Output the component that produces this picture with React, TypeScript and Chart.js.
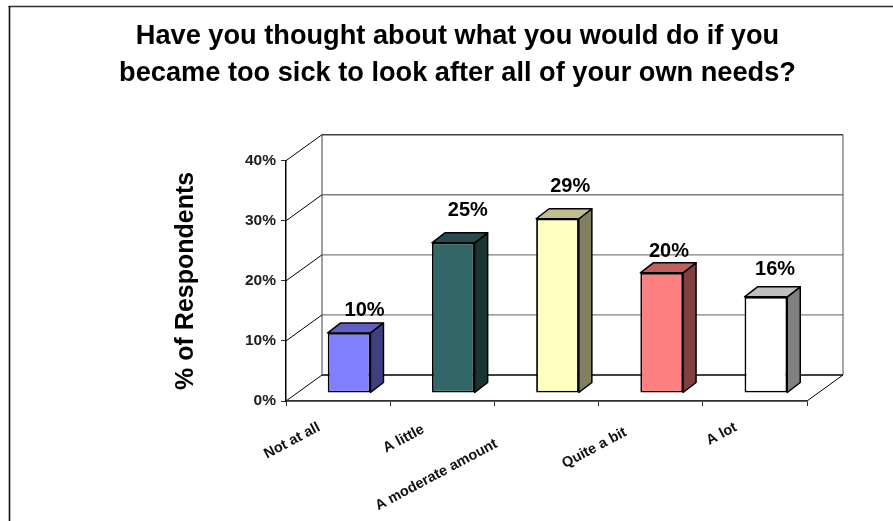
import React, { useEffect, useRef } from "react";
import { Chart, registerables } from "chart.js";

Chart.register(...registerables);

const categories = ["Not at all", "A little", "A moderate amount", "Quite a bit", "A lot"];
const percentValues = [10, 25, 29, 20, 16];
const frontColors = ["#8080FF", "#336666", "#FFFFC0", "#FF8080", "#FFFFFF"];
const topColors = ["#6060C0", "#264D4D", "#BFBF90", "#BF6060", "#C0C0C0"];
const sideColors = ["#404080", "#1A3333", "#808060", "#804040", "#808080"];
const yTicks = [0, 10, 20, 30, 40];
const titleLines = [
  "Have you thought about what you would do if you",
  "became too sick to look after all of your own needs?",
];

const FONT = '"Liberation Sans", Arial, sans-serif';

// Oblique projection of the box: wall depth, bar inset from the front edge, bar depth.
const WALL = { dx: 36, dy: -26 };
const BAR_SHIFT = { dx: 11, dy: -8 };
const BAR_DEPTH = { dx: 13, dy: -10 };

// Per-category nudges for the rotated axis labels and the value labels.
const categoryLabelNudge = [
  { x: -19, y: 25.5 },
  { x: -19, y: 27.5 },
  { x: -50, y: 42 },
  { x: -25, y: 30.5 },
  { x: -19, y: 25.5 },
];
const valueLabelNudge = [
  { x: 15.5, y: -22.7 },
  { x: 14.5, y: -32 },
  { x: 12.7, y: -32 },
  { x: 7.3, y: -21.7 },
  { x: 9.2, y: -27.7 },
];

function line(ctx: CanvasRenderingContext2D, x1: number, y1: number, x2: number, y2: number, color: string, width: number) {
  ctx.strokeStyle = color;
  ctx.lineWidth = width;
  ctx.beginPath();
  ctx.moveTo(x1, y1);
  ctx.lineTo(x2, y2);
  ctx.stroke();
}

function face(ctx: CanvasRenderingContext2D, pts: number[][], fill: string) {
  ctx.fillStyle = fill;
  ctx.strokeStyle = "#000000";
  ctx.lineWidth = 1.5;
  ctx.lineJoin = "round";
  ctx.beginPath();
  pts.forEach(([x, y], i) => (i ? ctx.lineTo(x, y) : ctx.moveTo(x, y)));
  ctx.closePath();
  ctx.fill();
  ctx.stroke();
}

const boxPlugin = {
  id: "box3d",
  afterLayout(chart: any) {
    // The heading is centred on the frame rather than on the padded plot box.
    chart.titleBlock.left = 22;
    chart.titleBlock.right = 893;
  },
  beforeDraw(chart: any) {
    const { ctx, chartArea, scales, width, height } = chart;
    const { left, right } = chartArea;
    ctx.save();
    ctx.fillStyle = "#FFFFFF";
    ctx.fillRect(0, 0, width, height);
    // Frame around the chart, open on the right and past the lower edge.
    line(ctx, 8.5, 6.5, 893, 6.5, "#303030", 1.6);
    line(ctx, 9.5, 6, 9.5, 521, "#101010", 1.6);

    // Back wall, its gridlines and the diagonals of the side wall.
    const y = scales.y;
    yTicks.forEach((v) => {
      const py = y.getPixelForValue(v);
      const by = py + WALL.dy;
      const color = v === 0 ? "#000000" : v === 40 ? "#404040" : "#808080";
      line(ctx, left, py, left + WALL.dx, by, "#000000", 1);
      line(ctx, left + WALL.dx, by, right + WALL.dx, by, color, v === 40 ? 1.4 : 1.3);
    });
    const backTop = y.getPixelForValue(40) + WALL.dy;
    const backBottom = y.getPixelForValue(0) + WALL.dy;
    line(ctx, left + WALL.dx, backTop, left + WALL.dx, backBottom, "#404040", 1);
    line(ctx, right + WALL.dx, backTop, right + WALL.dx, backBottom, "#505050", 1);
    line(ctx, right, y.getPixelForValue(0), right + WALL.dx, backBottom, "#000000", 1);
    ctx.restore();
  },
  beforeDatasetsDraw(chart: any) {
    const { ctx } = chart;
    const bars = chart.getDatasetMeta(0).data;
    ctx.save();
    ctx.translate(BAR_SHIFT.dx, BAR_SHIFT.dy);
    bars.forEach((bar: any, i: number) => {
      const { x, y, base, width } = bar.getProps(["x", "y", "base", "width"], true);
      const r = x + width / 2;
      const l = x - width / 2;
      const d = BAR_DEPTH;
      face(ctx, [[r, base], [r + d.dx, base + d.dy], [r + d.dx, y + d.dy], [r, y]], sideColors[i]);
      face(ctx, [[l, y], [l + d.dx, y + d.dy], [r + d.dx, y + d.dy], [r, y]], topColors[i]);
    });
    // The fronts are drawn by the bar controller inside this same shifted frame.
  },
  afterDatasetsDraw(chart: any) {
    const { ctx, scales } = chart;
    ctx.restore();
    const bars = chart.getDatasetMeta(0).data;

    ctx.save();
    ctx.fillStyle = "#000000";
    ctx.textAlign = "center";
    ctx.textBaseline = "middle";
    ctx.font = `bold 20px ${FONT}`;
    bars.forEach((bar: any, i: number) => {
      const { x, y } = bar.getProps(["x", "y"], true);
      ctx.fillText(`${percentValues[i]}%`, x + BAR_SHIFT.dx + valueLabelNudge[i].x, y + BAR_SHIFT.dy + valueLabelNudge[i].y);
    });

    // Category labels are rotated about their right end.
    ctx.font = `bold 14.5px ${FONT}`;
    ctx.textAlign = "right";
    ctx.fillStyle = "#101010";
    categories.forEach((c, i) => {
      const x = scales.x.getPixelForValue(i);
      const bottom = scales.x.top;
      ctx.save();
      ctx.translate(x + categoryLabelNudge[i].x, bottom + categoryLabelNudge[i].y);
      ctx.rotate((-28 * Math.PI) / 180);
      ctx.fillText(c, 0, 0);
      ctx.restore();
    });
    ctx.restore();
  },
};

export default function App() {
  const ref = useRef<HTMLCanvasElement>(null);
  useEffect(() => {
    const chart = new Chart(ref.current!, {
      type: "bar",
      data: {
        labels: categories,
        datasets: [
          {
            data: percentValues,
            backgroundColor: frontColors,
            borderColor: "#000000",
            borderWidth: 1.8,
            borderSkipped: false,
            barPercentage: 0.41,
            categoryPercentage: 1,
          },
        ],
      },
      options: {
        responsive: false,
        animation: false,
        layout: { padding: { left: 160, right: 86, top: 18, bottom: 0 } },
        plugins: {
          legend: { display: false },
          tooltip: { enabled: false },
          title: {
            display: true,
            text: titleLines,
            color: "#000000",
            font: { family: FONT, size: 27.2, weight: "bold", lineHeight: 1.36 },
            padding: { top: 0, bottom: 68.7 },
          },
        },
        scales: {
          x: {
            type: "category",
            afterFit: (s: any) => {
              s.height = 120;
            },
            border: { display: true, color: "#303030", width: 1.7 },
            grid: { display: true, drawOnChartArea: false, drawTicks: true, tickLength: 5, color: "#303030" },
            ticks: { display: false },
          },
          y: {
            min: 0,
            max: 40,
            afterFit: (s: any) => {
              s.width = 126;
            },
            afterBuildTicks: (s: any) => {
              s.ticks = yTicks.map((value) => ({ value }));
            },
            border: { display: true, color: "#000000", width: 1.5 },
            grid: { display: true, drawOnChartArea: false, drawTicks: true, tickLength: 5, color: "#303030" },
            ticks: {
              color: "#202020",
              padding: 5,
              font: { family: FONT, size: 15.5, weight: "bold" },
              callback: (v: any) => `${v}%`,
            },
            title: {
              display: true,
              text: "% of Respondents",
              color: "#000000",
              font: { family: FONT, size: 25, weight: "bold" },
              padding: { top: 11, bottom: 0 },
            },
          },
        },
      },
      plugins: [boxPlugin],
    } as any);
    return () => chart.destroy();
  }, []);
  return (
    <div style={{ position: "absolute", left: 0, top: 0, width: 893, height: 521, overflow: "hidden" }}>
      <canvas ref={ref} width={893} height={521} style={{ display: "block" }} />
    </div>
  );
}
